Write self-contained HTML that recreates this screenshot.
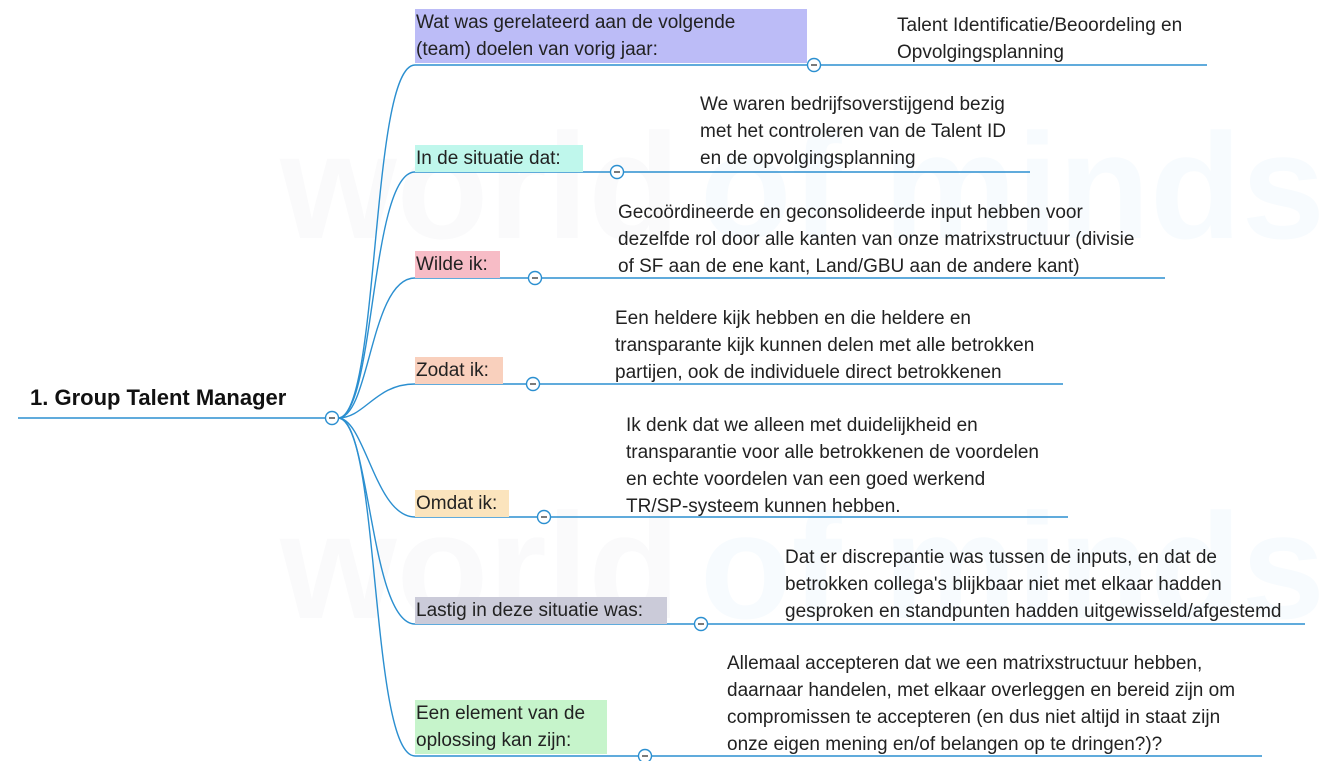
<!DOCTYPE html>
<html><head><meta charset="utf-8"><style>
html,body{margin:0;padding:0;background:#fff;width:1335px;height:761px;overflow:hidden;position:relative;font-family:"Liberation Sans",sans-serif;color:#222}
.t{position:absolute;font-size:19px;line-height:27px;white-space:nowrap}
.l{position:absolute;font-size:19px;line-height:27px;white-space:nowrap;padding:0 2px 0 1px}
svg{position:absolute;left:0;top:0}
.wm{position:absolute;font-weight:bold;font-size:150px;color:#fafafb;white-space:nowrap}
</style></head><body>
<div class="wm" style="left:280px;top:100px">world</div>
<div class="wm" style="left:700px;top:100px;color:#f7fbfe">of minds</div>
<div class="wm" style="left:280px;top:480px">world</div>
<div class="wm" style="left:700px;top:480px;color:#f7fbfe">of minds</div>
<svg width="1335" height="761" fill="none" stroke="#2b8fd0" stroke-width="1.4">
<line x1="18" y1="418" x2="326" y2="418"/>
<path d="M338 418 C 380 418, 370 65, 415 65 H 807"/>
<path d="M338 418 C 375 418, 370 172, 415 172 H 610"/>
<path d="M338 418 C 370 418, 370 278, 415 278 H 528"/>
<path d="M338 418 C 365 418, 375 384, 415 384 H 526"/>
<path d="M338 418 C 365 418, 375 517, 415 517 H 537"/>
<path d="M338 418 C 370 418, 370 624, 415 624 H 694"/>
<path d="M338 418 C 380 418, 370 756, 415 756 H 638"/>
<line x1="821" y1="65" x2="1207" y2="65"/>
<line x1="624" y1="172" x2="1030" y2="172"/>
<line x1="542" y1="278" x2="1165" y2="278"/>
<line x1="540" y1="384" x2="1063" y2="384"/>
<line x1="551" y1="517" x2="1068" y2="517"/>
<line x1="708" y1="624" x2="1305" y2="624"/>
<line x1="652" y1="756" x2="1262" y2="756"/>
<g fill="#fff">
<circle cx="332" cy="418" r="6.5"/><circle cx="814" cy="65" r="6.5"/><circle cx="617" cy="172" r="6.5"/>
<circle cx="535" cy="278" r="6.5"/><circle cx="533" cy="384" r="6.5"/><circle cx="544" cy="517" r="6.5"/>
<circle cx="701" cy="624" r="6.5"/><circle cx="645" cy="756" r="6.5"/>
</g>
<g stroke="#333" stroke-width="1.3">
<line x1="329" y1="418" x2="335" y2="418"/><line x1="811" y1="65" x2="817" y2="65"/><line x1="614" y1="172" x2="620" y2="172"/>
<line x1="532" y1="278" x2="538" y2="278"/><line x1="530" y1="384" x2="536" y2="384"/><line x1="541" y1="517" x2="547" y2="517"/>
<line x1="698" y1="624" x2="704" y2="624"/><line x1="642" y1="756" x2="648" y2="756"/>
</g>
</svg>
<div class="t" style="left:30px;top:384px;font-size:22px;font-weight:bold;color:#111">1. Group Talent Manager</div>

<div class="l" style="left:415px;top:9px;width:389px;background:#bcbcf7">Wat was gerelateerd aan de volgende<br>(team) doelen van vorig jaar:</div>
<div class="l" style="left:415px;top:145px;width:165px;background:#bff7ec">In de situatie dat:</div>
<div class="l" style="left:415px;top:251px;width:82px;background:#f7bcc6">Wilde ik:</div>
<div class="l" style="left:415px;top:357px;width:85px;background:#f9d0bd">Zodat ik:</div>
<div class="l" style="left:415px;top:490px;width:91px;background:#fbe4bd">Omdat ik:</div>
<div class="l" style="left:415px;top:597px;width:249px;background:#cbcbd9">Lastig in deze situatie was:</div>
<div class="l" style="left:415px;top:700px;width:189px;background:#c6f4cb">Een element van de<br>oplossing kan zijn:</div>

<div class="t" style="left:897px;top:12px">Talent Identificatie/Beoordeling en<br>Opvolgingsplanning</div>
<div class="t" style="left:700px;top:91px">We waren bedrijfsoverstijgend bezig<br>met het controleren van de Talent ID<br>en de opvolgingsplanning</div>
<div class="t" style="left:618px;top:199px">Gecoördineerde en geconsolideerde input hebben voor<br>dezelfde rol door alle kanten van onze matrixstructuur (divisie<br>of SF aan de ene kant, Land/GBU aan de andere kant)</div>
<div class="t" style="left:615px;top:305px">Een heldere kijk hebben en die heldere en<br>transparante kijk kunnen delen met alle betrokken<br>partijen, ook de individuele direct betrokkenen</div>
<div class="t" style="left:626px;top:412px">Ik denk dat we alleen met duidelijkheid en<br>transparantie voor alle betrokkenen de voordelen<br>en echte voordelen van een goed werkend<br>TR/SP-systeem kunnen hebben.</div>
<div class="t" style="left:785px;top:544px">Dat er discrepantie was tussen de inputs, en dat de<br>betrokken collega's blijkbaar niet met elkaar hadden<br>gesproken en standpunten hadden uitgewisseld/afgestemd</div>
<div class="t" style="left:727px;top:650px">Allemaal accepteren dat we een matrixstructuur hebben,<br>daarnaar handelen, met elkaar overleggen en bereid zijn om<br>compromissen te accepteren (en dus niet altijd in staat zijn<br>onze eigen mening en/of belangen op te dringen?)?</div>
</body></html>
